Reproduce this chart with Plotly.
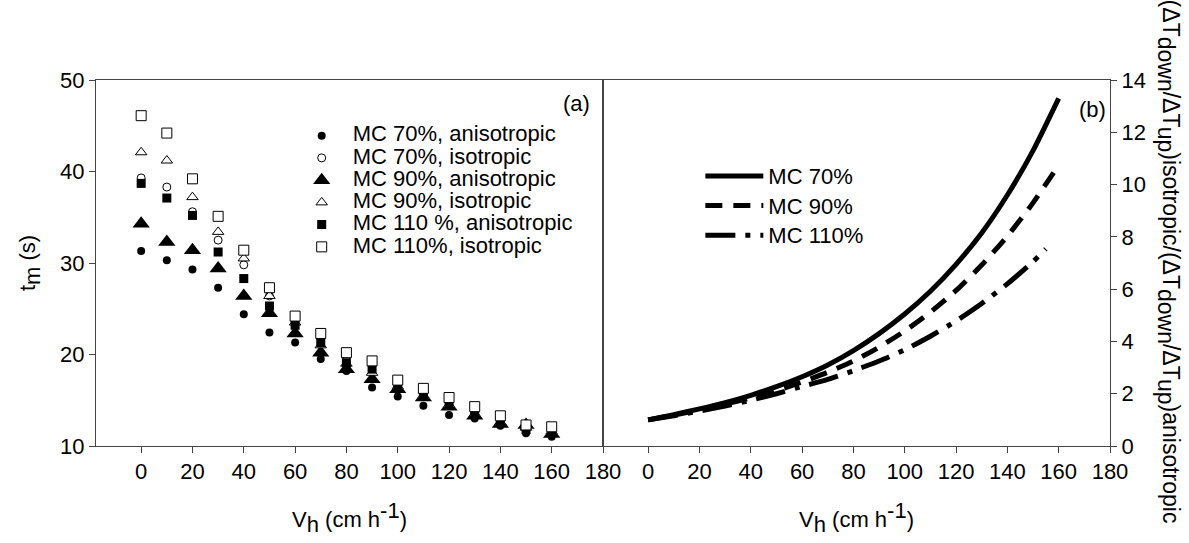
import plotly.graph_objects as go

# ---------------- data ----------------
vh = [0, 10, 20, 30, 40, 50, 60, 70, 80, 90, 100, 110, 120, 130, 140, 150, 160]

mc70_aniso = [31.3, 30.3, 29.3, 27.3, 24.4, 22.4, 21.3, 19.5, 18.2, 16.4, 15.4, 14.4, 13.4, 13.0, 12.2, 11.4, 11.0]
mc70_iso = [39.3, 38.3, 35.6, 32.5, 29.8, 26.4, 23.8, 21.8, 19.8, 18.8, 16.8, 15.8, 14.8, 13.8, 12.8, 12.0, 11.8]
mc90_aniso = [34.3, 32.3, 31.4, 29.4, 26.4, 24.5, 22.3, 20.2, 18.4, 17.3, 16.2, 15.3, 14.3, 13.3, 12.4, 12.3, 11.3]
mc90_iso = [42.1, 41.2, 37.2, 33.4, 30.5, 26.4, 23.5, 21.0, 19.0, 18.0, 16.5, 15.5, 14.5, 13.5, 12.6, 12.0, 11.6]
mc110_aniso = [38.7, 37.1, 35.2, 31.2, 28.3, 25.3, 23.2, 21.3, 19.1, 18.4, 16.6, 15.6, 14.6, 13.6, 12.8, 11.8, 11.6]
mc110_iso = [46.1, 44.2, 39.2, 35.1, 31.4, 27.3, 24.2, 22.3, 20.2, 19.3, 17.2, 16.3, 15.3, 14.3, 13.3, 12.3, 12.1]

curve_x = [0, 10, 20, 30, 40, 50, 60, 70, 80, 90, 100, 110, 120, 130, 140, 150, 160]
ratio70 = [1.0, 1.2, 1.42, 1.66, 1.94, 2.27, 2.65, 3.1, 3.65, 4.3, 5.05, 5.92, 6.95, 8.15, 9.6, 11.3, 13.3]
ratio90 = [1.0, 1.18, 1.38, 1.6, 1.84, 2.12, 2.45, 2.82, 3.25, 3.78, 4.4, 5.12, 5.95, 6.92, 8.03, 9.3, 10.75]
curve_x110 = [0, 10, 20, 30, 40, 50, 60, 70, 80, 90, 100, 110, 120, 130, 140, 150, 155]
ratio110 = [1.0, 1.16, 1.34, 1.53, 1.75, 2.0, 2.28, 2.55, 2.88, 3.25, 3.68, 4.2, 4.78, 5.45, 6.2, 7.05, 7.54]

left_names = ["MC 70%, anisotropic", "MC 70%, isotropic", "MC 90%, anisotropic",
              "MC 90%, isotropic", "MC 110 %, anisotropic", "MC 110%, isotropic"]
right_names = ["MC 70%", "MC 90%", "MC 110%"]
x_ticks = [0, 20, 40, 60, 80, 100, 120, 140, 160, 180]

FONT = "Arial, Liberation Sans, sans-serif"
FS = 22


def big(t, size=FS):
    return '<span style="font-size:%dpx">%s</span>' % (size, t)


fig = go.Figure()

left_series = [mc70_aniso, mc70_iso, mc90_aniso, mc90_iso, mc110_aniso, mc110_iso]
left_styles = [
    dict(symbol="circle", size=8, color="black", line=dict(width=0)),
    dict(symbol="circle", size=8, color="white", line=dict(width=1, color="black")),
    dict(symbol="triangle-up", size=15, color="black", line=dict(width=0)),
    dict(symbol="triangle-up", size=10, color="white", line=dict(width=1, color="black")),
    dict(symbol="square", size=9, color="black", line=dict(width=0)),
    dict(symbol="square", size=10, color="white", line=dict(width=1, color="black")),
]
for name, ys, st in zip(left_names, left_series, left_styles):
    fig.add_trace(go.Scatter(x=vh, y=ys, mode="markers", name=big(name),
                             marker=st, xaxis="x", yaxis="y", legend="legend"))

right_series = [(curve_x, ratio70, "solid"), (curve_x, ratio90, "17px,11px"),
                (curve_x110, ratio110, "30px,10px,5px,10px")]
for name, (xs, ys, dash) in zip(right_names, right_series):
    fig.add_trace(go.Scatter(x=xs, y=ys, mode="lines", name=big(name),
                             line=dict(color="black", width=5, dash=dash, shape="spline",
                                       smoothing=0.6),
                             xaxis="x2", yaxis="y2", legend="legend2"))

axis_common = dict(showgrid=False, zeroline=False, showline=True, linecolor="#444",
                   linewidth=1, ticks="outside", ticklen=6, tickcolor="#444",
                   tickfont=dict(family=FONT, size=FS, color="black"), mirror=True)

xtitle = "V" + "<sub>" + big("h") + "</sub>" + " (cm h" + "<sup>" + big("-1") + "</sup>" + ")"

fig.update_layout(
    width=1189, height=543,
    margin=dict(l=96, r=79, t=80, b=97),
    paper_bgcolor="white", plot_bgcolor="white",
    font=dict(family=FONT, size=FS, color="black"),
    xaxis=dict(domain=[0, 0.5], range=[-17.6, 180], tickvals=x_ticks, anchor="y",
               title=dict(text=xtitle, standoff=28, font=dict(size=FS)), **axis_common),
    yaxis=dict(domain=[0, 1], range=[10, 50], dtick=10, anchor="x",
               title=dict(text="t" + "<sub>" + big("m") + "</sub>" + " (s)", standoff=18,
                          font=dict(size=FS)), **axis_common),
    xaxis2=dict(domain=[0.5, 1], range=[-17.6, 180], tickvals=x_ticks, anchor="y2",
                title=dict(text=xtitle, standoff=28, font=dict(size=FS)), **axis_common),
    yaxis2=dict(domain=[0, 1], range=[0, 14], dtick=2, anchor="x2", side="right",
                **axis_common),
    legend=dict(x=0.192, y=0.892, xanchor="left", yanchor="top", bgcolor="rgba(0,0,0,0)",
                font=dict(family=FONT, size=14.8), itemwidth=52, tracegroupgap=0),
    legend2=dict(x=0.596, y=0.792, xanchor="left", yanchor="top", bgcolor="rgba(0,0,0,0)",
                 font=dict(family=FONT, size=20.5), itemwidth=58),
    showlegend=True,
)

right_title = ("(ΔT" + "<sub>" + big("down", 23) + "</sub>" + "/ΔT" + "<sub>" + big("up", 23) + "</sub>"
               + ")isotropic/(ΔT" + "<sub>" + big("down", 23) + "</sub>" + "/ΔT" + "<sub>" + big("up", 23)
               + "</sub>" + ")anisotropic")

fig.add_annotation(text="(a)", xref="x domain", yref="y domain", x=0.947, y=0.937,
                   xanchor="center", yanchor="middle",
                   showarrow=False, font=dict(family=FONT, size=FS))
fig.add_annotation(text="(b)", xref="x2 domain", yref="y2 domain", x=0.965, y=0.920,
                   xanchor="center", yanchor="middle",
                   showarrow=False, font=dict(family=FONT, size=FS))
fig.add_annotation(text=right_title, xref="paper", yref="paper", x=1.075, y=0.505,
                   textangle=90, showarrow=False, font=dict(family=FONT, size=23))

fig.write_html("out.html")
